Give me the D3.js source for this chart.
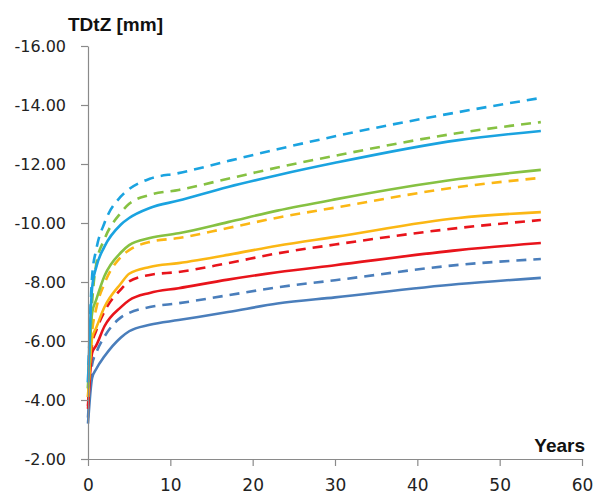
<!DOCTYPE html>
<html>
<head>
<meta charset="utf-8">
<script src="https://cdn.jsdelivr.net/npm/d3@7"></script>
<style>
  html, body { margin: 0; padding: 0; background: #fff; }
  svg { display: block; }
</style>
</head>
<body>
<div id="chart"></div>
<script>
// --- data ---
const years = [0, 0.5, 1, 2, 4, 5, 7.5, 11, 17, 23, 30, 45, 55];

const lightBlueDashed = [-4.6, -8.2, -9.1, -10.0, -10.9, -11.15, -11.5, -11.69, -12.1, -12.5, -12.94, -13.76, -14.24];
const greenDashed     = [-4.4, -7.3, -8.6, -9.45, -10.35, -10.65, -10.95, -11.12, -11.5, -11.88, -12.28, -13.05, -13.42];
const lightBlueSolid  = [-4.6, -7.8, -8.5, -9.2, -9.95, -10.17, -10.51, -10.76, -11.22, -11.62, -12.04, -12.81, -13.12];
const greenSolid      = [-4.4, -6.95, -7.4, -8.2, -9.0, -9.25, -9.49, -9.65, -10.03, -10.42, -10.8, -11.49, -11.8];
const orangeDashed    = [-4.1, -6.3, -7.1, -7.95, -8.85, -9.08, -9.36, -9.49, -9.83, -10.18, -10.52, -11.22, -11.53];
const orangeSolid     = [-4.1, -6.1, -6.45, -7.15, -7.95, -8.28, -8.51, -8.64, -8.92, -9.23, -9.53, -10.17, -10.37];
const redDashed       = [-3.8, -5.9, -6.35, -7.0, -7.75, -8.02, -8.24, -8.34, -8.64, -8.97, -9.27, -9.83, -10.1];
const redSolid        = [-3.7, -5.6, -5.85, -6.5, -7.15, -7.38, -7.63, -7.79, -8.08, -8.33, -8.57, -9.08, -9.32];
const steelDashed     = [-3.4, -5.2, -5.6, -6.15, -6.8, -6.95, -7.15, -7.28, -7.55, -7.82, -8.06, -8.58, -8.78];
const steelSolid      = [-3.2, -4.75, -5.05, -5.48, -6.12, -6.33, -6.55, -6.71, -6.98, -7.27, -7.48, -7.93, -8.14];

const yTicks = [-16, -14, -12, -10, -8, -6, -4, -2];
const xTicks = [0, 10, 20, 30, 40, 50, 60];

const series = [
  { values: steelSolid,      color: "#4a7ebb", dashed: false },
  { values: steelDashed,     color: "#4a7ebb", dashed: true },
  { values: redSolid,        color: "#e8141b", dashed: false },
  { values: redDashed,       color: "#e8141b", dashed: true },
  { values: orangeSolid,     color: "#fbb714", dashed: false },
  { values: orangeDashed,    color: "#fbb714", dashed: true },
  { values: greenSolid,      color: "#86c142", dashed: false },
  { values: greenDashed,     color: "#86c142", dashed: true },
  { values: lightBlueSolid,  color: "#1aa3e0", dashed: false },
  { values: lightBlueDashed, color: "#1aa3e0", dashed: true },
];

// --- layout ---
const W = 595, H = 495;
const plotLeft = 88, plotRight = 582, plotTop = 46, plotBottom = 459;
const axisColor = "#8a8a8a";

const svg = d3.select("#chart").append("svg")
  .attr("width", W)
  .attr("height", H);

const x = d3.scaleLinear().domain([0, 60]).range([plotLeft, plotRight]);
const y = d3.scaleLinear().domain([-2, -16]).range([plotBottom, plotTop]);

// lines
const line = d3.line()
  .x((d) => x(d[0]))
  .y((d) => y(d[1]))
  .curve(d3.curveMonotoneX);

svg.append("g")
  .selectAll("path")
  .data(series)
  .join("path")
  .attr("fill", "none")
  .attr("stroke", (d) => d.color)
  .attr("stroke-width", 2.6)
  .attr("stroke-dasharray", (d) => (d.dashed ? "10,7" : null))
  .attr("d", (d) => line(years.map((yr, i) => [yr, d.values[i]])));

// y axis (hyphen minus, like the original)
const yAxis = svg.append("g")
  .attr("transform", `translate(${plotLeft},0)`)
  .call(d3.axisLeft(y).tickValues(yTicks).tickSize(7).tickSizeOuter(0).tickPadding(15)
    .tickFormat((d) => d.toFixed(2)));

yAxis.select(".domain").attr("stroke", axisColor).attr("stroke-width", 1.2);
yAxis.selectAll(".tick line").attr("stroke", axisColor).attr("stroke-width", 1.2);
yAxis.selectAll(".tick text")
  .attr("font-family", "DejaVu Sans, sans-serif")
  .attr("font-size", 16)
  .attr("fill", "#222");

// x axis
const xAxis = svg.append("g")
  .attr("transform", `translate(0,${plotBottom})`)
  .call(d3.axisBottom(x).tickValues(xTicks).tickSize(7).tickSizeOuter(0).tickPadding(13)
    .tickFormat(d3.format("d")));

xAxis.select(".domain").attr("stroke", axisColor).attr("stroke-width", 1.2);
xAxis.selectAll(".tick line").attr("stroke", axisColor).attr("stroke-width", 1.2);
xAxis.selectAll(".tick text")
  .attr("font-family", "DejaVu Sans, sans-serif")
  .attr("font-size", 17)
  .attr("fill", "#222");

// axis titles
svg.append("text")
  .attr("x", 68)
  .attr("y", 31)
  .attr("font-family", "Liberation Sans, Arial, sans-serif")
  .attr("font-weight", "bold")
  .attr("font-size", 19)
  .attr("fill", "#111")
  .text("TDtZ [mm]");

svg.append("text")
  .attr("x", 585)
  .attr("y", 452)
  .attr("text-anchor", "end")
  .attr("font-family", "Liberation Sans, Arial, sans-serif")
  .attr("font-weight", "bold")
  .attr("font-size", 19)
  .attr("fill", "#111")
  .text("Years");
</script>
</body>
</html>
